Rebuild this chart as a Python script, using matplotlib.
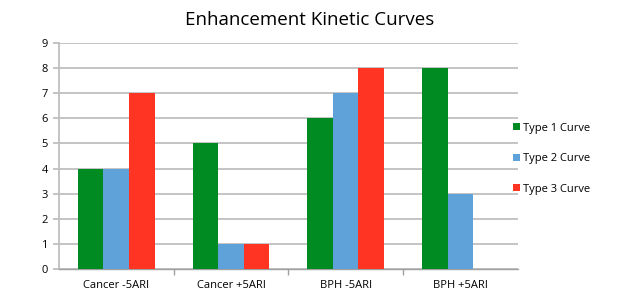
import numpy as np
import matplotlib.pyplot as plt

plt.rcParams['font.family'] = ['Open Sans', 'DejaVu Sans']

categories = ["Cancer -5ARI", "Cancer +5ARI", "BPH -5ARI", "BPH +5ARI"]
series_names = ["Type 1 Curve", "Type 2 Curve", "Type 3 Curve"]
type1 = [4, 5, 6, 8]
type2 = [4, 1, 7, 3]
type3 = [7, 1, 8, 0]
colors = ["#008A22", "#5FA2DA", "#FF3422"]

fig = plt.figure(figsize=(6.2, 3.08), dpi=100)
ax = fig.add_axes([0.095, 0.127, 0.74, 0.733])

x = np.arange(len(categories))
w = 0.223
for i, (vals, name, c) in enumerate(zip([type1, type2, type3], series_names, colors)):
    ax.bar(x + (i - 1) * w, vals, w, color=c, label=name, zorder=3)

ax.set_xlim(-0.5, len(categories) - 0.5)
ax.set_ylim(0, 9)
ax.set_yticks(range(0, 10))
ax.yaxis.grid(True, color="#BFBFBF", lw=1.3, zorder=0)
ax.set_xticks(x)
ax.set_xticklabels(categories, fontsize=8)
ax.tick_params(axis='x', length=0, pad=8)
ax.set_xticks(np.arange(0.5, len(categories) - 0.5, 1), minor=True)
ax.tick_params(axis='x', which='minor', length=4, color="#A0A0A0", width=1)
ax.tick_params(axis='y', length=4, color="#BFBFBF", width=1.3, labelsize=8, pad=4)
for s in ["top", "right"]:
    ax.spines[s].set_visible(False)
ax.spines["left"].set_color("#BFBFBF")
ax.spines["left"].set_linewidth(1.3)
ax.spines["bottom"].set_color("#A0A0A0")
ax.spines["bottom"].set_linewidth(1)

fig.text(0.5, 0.935, "Enhancement Kinetic Curves", ha="center", va="center", fontsize=13.5)

handles, labels = ax.get_legend_handles_labels()
fig.legend(handles, labels, loc="center left", bbox_to_anchor=(0.812, 0.485),
           frameon=False, fontsize=8, handlelength=0.6, handleheight=0.6,
           handletextpad=0.3, labelspacing=1.75)

fig.savefig("out.png", dpi=100)
